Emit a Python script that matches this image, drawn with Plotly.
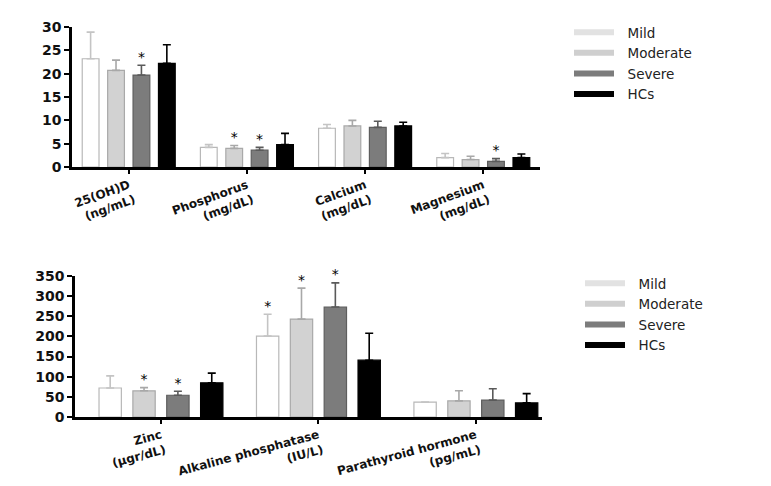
import plotly.graph_objects as go

# ---- data ----
series = ["Mild", "Moderate", "Severe", "HCs"]

top_cats = ["25(OH)D<br>(ng/mL)", "Phosphorus<br>(mg/dL)", "Calcium<br>(mg/dL)", "Magnesium<br>(mg/dL)"]
top_mean = {
    "Mild":     [23.2, 4.2, 8.3, 2.0],
    "Moderate": [20.7, 4.0, 8.8, 1.6],
    "Severe":   [19.7, 3.6, 8.5, 1.2],
    "HCs":      [22.2, 4.8, 8.8, 2.0],
}
top_err = {
    "Mild":     [5.7, 0.6, 0.8, 0.9],
    "Moderate": [2.2, 0.6, 1.2, 0.7],
    "Severe":   [2.1, 0.6, 1.3, 0.6],
    "HCs":      [4.0, 2.4, 0.8, 0.8],
}
top_sig = {
    "Mild":     [False, False, False, False],
    "Moderate": [False, True, False, False],
    "Severe":   [True, True, False, True],
    "HCs":      [False, False, False, False],
}

bot_cats = ["Zinc<br>(µgr/dL)", "Alkaline phosphatase<br>(IU/L)", "Parathyroid hormone<br>(pg/mL)"]
bot_mean = {
    "Mild":     [72, 201, 37],
    "Moderate": [65, 243, 40],
    "Severe":   [54, 273, 42],
    "HCs":      [85, 141, 35],
}
bot_err = {
    "Mild":     [30, 54, 0],
    "Moderate": [8, 77, 25],
    "Severe":   [10, 60, 28],
    "HCs":      [24, 67, 23],
}
bot_sig = {
    "Mild":     [False, True, False],
    "Moderate": [True, True, False],
    "Severe":   [True, True, False],
    "HCs":      [False, False, False],
}

# ---- styles ----
fill = {"Mild": "#ffffff", "Moderate": "#d2d2d2", "Severe": "#7c7c7c", "HCs": "#000000"}
edge = {"Mild": "#b8b8b8", "Moderate": "#a9a9a9", "Severe": "#5e5e5e", "HCs": "#000000"}
errc = {"Mild": "#c4c4c4", "Moderate": "#a8a8a8", "Severe": "#5a5a5a", "HCs": "#000000"}
legc = {"Mild": "#e2e2e2", "Moderate": "#cfcfcf", "Severe": "#7c7c7c", "HCs": "#000000"}

BARGAP = 0.14
GROUPGAP = 0.34
slot = (1 - BARGAP) / len(series)

fig = go.Figure()


def add_panel(cats, mean, err, sig, xa, ya, legend):
    idx = list(range(len(cats)))
    for j, s in enumerate(series):
        fig.add_trace(go.Bar(
            x=idx, y=mean[s], name=s, xaxis=xa, yaxis=ya,
            marker=dict(color=fill[s], line=dict(color=edge[s], width=1.2)),
            error_y=dict(type="data", symmetric=False, array=err[s],
                         arrayminus=[0] * len(cats), color=errc[s],
                         thickness=1.6, width=4),
            showlegend=False,
        ))
        # significance stars
        sx, sy = [], []
        for i in idx:
            if sig[s][i]:
                sx.append(i + (j - (len(series) - 1) / 2) * slot)
                sy.append(mean[s][i] + err[s][i])
        if sx:
            fig.add_trace(go.Scatter(
                x=sx, y=sy, xaxis=xa, yaxis=ya, mode="text", text=["*"] * len(sx),
                textposition="top center", cliponaxis=False,
                textfont=dict(family="DejaVu Sans", size=14, color="#000000"),
                showlegend=False, hoverinfo="skip",
            ))
        # legend swatch
        fig.add_trace(go.Scatter(
            x=[None], y=[None], xaxis=xa, yaxis=ya, mode="lines",
            name="\u00a0\u00a0" + s,
            line=dict(color=legc[s], width=6), legend=legend,
        ))


add_panel(top_cats, top_mean, top_err, top_sig, "x", "y", "legend")
add_panel(bot_cats, bot_mean, bot_err, bot_sig, "x2", "y2", "legend2")

W, H = 771, 486
tickfont = dict(family="DejaVu Sans", size=14, color="#111111", weight="bold")
catfont = dict(family="DejaVu Sans", size=12, color="#111111", weight="bold")
axis_common = dict(showline=True, linecolor="#000000", linewidth=2.5, ticks="outside",
                   tickcolor="#000000", tickwidth=2, showgrid=False, zeroline=False,
                   automargin=False)

legfont = dict(family="DejaVu Sans", size=13.5, color="#222222")

fig.update_layout(
    width=W, height=H, margin=dict(l=0, r=0, t=0, b=0),
    paper_bgcolor="white", plot_bgcolor="white",
    barmode="group", bargap=BARGAP, bargroupgap=GROUPGAP,
    xaxis=dict(domain=[72 / W, 540 / W], range=[-0.48, 3.48], anchor="y",
               tickvals=list(range(len(top_cats))), ticktext=top_cats,
               tickangle=-20, tickfont=catfont, ticklen=4, **axis_common),
    yaxis=dict(domain=[1 - 167 / H, 1 - 27 / H], range=[0, 30], dtick=5, anchor="x",
               tickfont=tickfont, ticklen=5, **axis_common),
    xaxis2=dict(domain=[75 / W, 542 / W], range=[-0.546, 2.42], anchor="y2",
                tickvals=list(range(len(bot_cats))), ticktext=bot_cats,
                tickangle=-15, tickfont=catfont, ticklen=4, **axis_common),
    yaxis2=dict(domain=[1 - 417 / H, 1 - 276 / H], range=[0, 350], dtick=50, anchor="x2",
                tickfont=tickfont, ticklen=5, **axis_common),
    legend=dict(x=569 / W, y=1 - 17 / H, xanchor="left", yanchor="top",
                font=legfont, itemwidth=40,
                bgcolor="rgba(0,0,0,0)", tracegroupgap=0),
    legend2=dict(x=580 / W, y=1 - 268 / H, xanchor="left", yanchor="top",
                 font=legfont, itemwidth=40,
                 bgcolor="rgba(0,0,0,0)", tracegroupgap=0),
)

fig.write_html("out.html", config={"displayModeBar": False},
               post_script="document.body.style.margin='0';")
